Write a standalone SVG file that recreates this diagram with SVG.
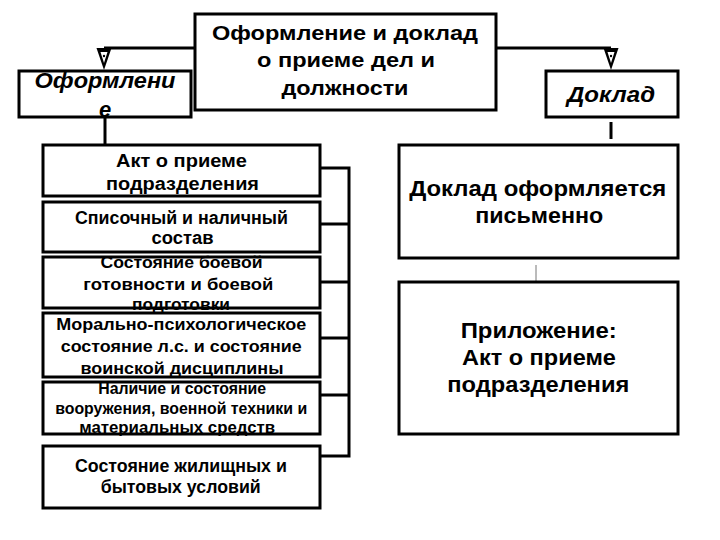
<svg xmlns="http://www.w3.org/2000/svg" width="720" height="540" viewBox="0 0 720 540">
<style>
.box{fill:#fff;stroke:#000;stroke-width:3}
.frame{fill:none;stroke:#000;stroke-width:3}
.t{font-family:"Liberation Sans",Arial,sans-serif;font-weight:bold;fill:#000;text-anchor:middle}
.big{font-size:21px}
.rt{font-size:22px}
.hdr{font-size:22px;font-style:italic}
.sm{font-size:17.5px}
.md{font-size:17px}
.xs{font-size:16px}
.ln{stroke:#000;stroke-width:3;fill:none}
.thin{stroke:#777;stroke-width:1;fill:none}
</style>
<defs>
<g id="arr">
<polygon points="-7.5,0 7.5,0 0,22" fill="#000"/>
<polygon points="-3.5,4 3.5,4 0,15" fill="#fff"/>
<circle cx="0" cy="8" r="1.2" fill="#000"/>
</g>
</defs>
<rect width="720" height="540" fill="#fff"/>
<g id="connectors">
<path class="ln" d="M195,48 H104"/>
<path class="ln" d="M496,48 H611"/>
<use href="#arr" x="104" y="48"/>
<use href="#arr" x="611" y="48"/>
<path class="ln" d="M105,117 V145"/>
<path class="ln" d="M611,122 V139"/>
<path class="thin" d="M536,265 V281"/>
<path class="ln" d="M320,168 H349 M320,224 H349 M320,282 H349 M320,338 H349 M320,395 H349 M320,456 H349 M349,166.5 V457.5"/>
</g>
<g id="top">
<rect class="box" x="195" y="14" width="301" height="96"/>
<text class="t big" x="345" y="39.5" textLength="266" lengthAdjust="spacingAndGlyphs">Оформление и доклад</text>
<text class="t big" x="346" y="67" textLength="178" lengthAdjust="spacingAndGlyphs">о приеме дел и</text>
<text class="t big" x="345" y="94.5" textLength="127" lengthAdjust="spacingAndGlyphs">должности</text>
</g>
<g id="oform">
<rect class="box" x="19" y="71" width="172" height="46"/>
<text class="t hdr" x="105" y="88" textLength="141" lengthAdjust="spacingAndGlyphs">Оформлени</text>
<text class="t hdr" x="105" y="117">е</text>
</g>
<g id="doklad">
<rect class="box" x="546" y="71" width="132" height="46"/>
<text class="t hdr" x="611" y="102" textLength="88" lengthAdjust="spacingAndGlyphs">Доклад</text>
</g>
<g id="b1">
<rect class="box" x="43" y="145" width="277" height="51"/>
<text class="t sm" x="181.5" y="166.5" textLength="131" lengthAdjust="spacingAndGlyphs">Акт о приеме</text>
<text class="t sm" x="182.5" y="190" textLength="153" lengthAdjust="spacingAndGlyphs">подразделения</text>
</g>
<g id="b2">
<rect class="box" x="43" y="202" width="277" height="50"/>
<text class="t sm" x="181.5" y="224" textLength="213" lengthAdjust="spacingAndGlyphs">Списочный и наличный</text>
<text class="t sm" x="182.5" y="244" textLength="62" lengthAdjust="spacingAndGlyphs">состав</text>
</g>
<g id="b3">
<rect x="43" y="257" width="277" height="51" fill="#fff"/>
<text class="t md" x="181.5" y="268.3" textLength="162" lengthAdjust="spacingAndGlyphs">Состояние боевой</text>
<text class="t md" x="178.3" y="290" textLength="190" lengthAdjust="spacingAndGlyphs">готовности и боевой</text>
<text class="t md" x="181" y="310" textLength="98" lengthAdjust="spacingAndGlyphs">подготовки</text>
<rect class="frame" x="43" y="257" width="277" height="51"/>
</g>
<g id="b4">
<rect x="43" y="313" width="277" height="64" fill="#fff"/>
<text class="t md" x="181.3" y="330" textLength="250" lengthAdjust="spacingAndGlyphs">Морально-психологическое</text>
<text class="t md" x="181.2" y="351.7" textLength="241" lengthAdjust="spacingAndGlyphs">состояние л.с. и состояние</text>
<text class="t md" x="182" y="374" textLength="203" lengthAdjust="spacingAndGlyphs">воинской дисциплины</text>
<rect class="frame" x="43" y="313" width="277" height="64"/>
</g>
<g id="b5">
<rect x="43" y="382" width="277" height="52" fill="#fff"/>
<text class="t xs" x="182.2" y="394" textLength="168" lengthAdjust="spacingAndGlyphs">Наличие и состояние</text>
<text class="t xs" x="181.2" y="414.3" textLength="252" lengthAdjust="spacingAndGlyphs">вооружения, военной техники и</text>
<text class="t xs" x="177.2" y="432.7" textLength="196" lengthAdjust="spacingAndGlyphs">материальных средств</text>
<rect class="frame" x="43" y="382" width="277" height="52"/>
</g>
<g id="b6">
<rect class="box" x="43" y="446" width="277" height="62"/>
<text class="t sm" x="180.9" y="471.7" textLength="212" lengthAdjust="spacingAndGlyphs">Состояние жилищных и</text>
<text class="t sm" x="180.7" y="492.7" textLength="160" lengthAdjust="spacingAndGlyphs">бытовых условий</text>
</g>
<g id="r1">
<rect class="box" x="399" y="145" width="279" height="113"/>
<text class="t rt" x="537.7" y="196" textLength="257" lengthAdjust="spacingAndGlyphs">Доклад оформляется</text>
<text class="t rt" x="539.2" y="222.7" textLength="128" lengthAdjust="spacingAndGlyphs">письменно</text>
</g>
<g id="r2">
<rect class="box" x="399" y="282" width="279" height="152"/>
<text class="t rt" x="538.7" y="338.3" textLength="156" lengthAdjust="spacingAndGlyphs">Приложение:</text>
<text class="t rt" x="538.9" y="365" textLength="154" lengthAdjust="spacingAndGlyphs">Акт о приеме</text>
<text class="t rt" x="538.3" y="391.7" textLength="182" lengthAdjust="spacingAndGlyphs">подразделения</text>
</g>
</svg>
